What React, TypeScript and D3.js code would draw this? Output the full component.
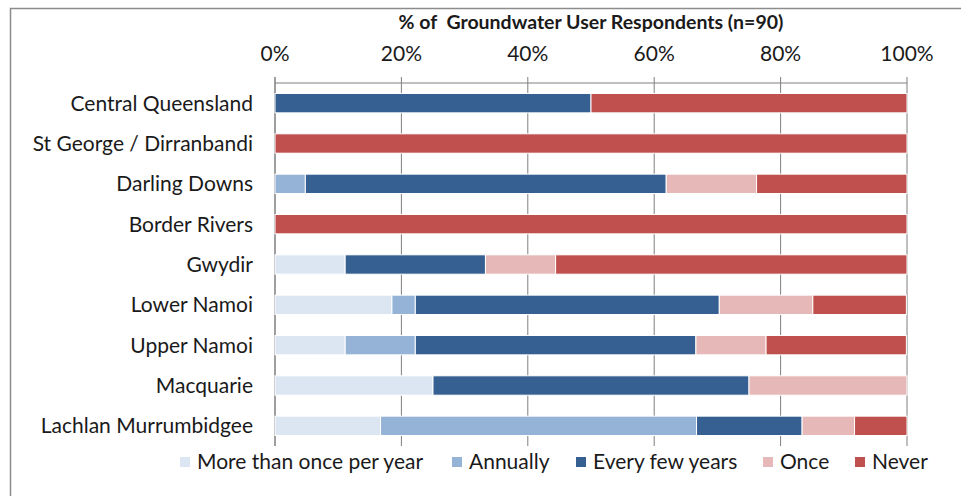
import { useEffect, useRef } from "react";
import * as d3 from "d3";

// Regions, top to bottom
const regions = [
  "Central Queensland",
  "St George / Dirranbandi",
  "Darling Downs",
  "Border Rivers",
  "Gwydir",
  "Lower Namoi",
  "Upper Namoi",
  "Macquarie",
  "Lachlan Murrumbidgee",
];

const seriesNames = ["More than once per year", "Annually", "Every few years", "Once", "Never"];
const seriesColors = ["#dce6f2", "#95b3d7", "#366092", "#e6b9b8", "#c0504d"];

// percent of respondents, per region (same order as regions)
const moreThanOnce = [0, 0, 0, 0, 11.1, 18.5, 11.1, 25, 16.7];
const annually = [0, 0, 4.8, 0, 0, 3.7, 11.1, 0, 50];
const everyFewYears = [50, 0, 57.1, 0, 22.2, 48.1, 44.4, 50, 16.7];
const once = [0, 0, 14.3, 0, 11.1, 14.8, 11.1, 25, 8.3];
const never = [50, 100, 23.8, 100, 55.6, 14.8, 22.2, 0, 8.3];

const ticks = [0, 20, 40, 60, 80, 100];
const titleText = "% of  Groundwater User Respondents (n=90)";

const font = "Lato, 'Open Sans', sans-serif";
const fs = 21;

export default function App() {
  const svgRef = useRef<SVGSVGElement>(null);

  useEffect(() => {
    const width = 961;
    const height = 496;
    const margin = { top: 83, left: 275, right: 54, bottom: 50 };
    const svg = d3.select(svgRef.current);
    svg.selectAll("*").remove();

    const rows = regions.map((r, i) => ({
      region: r,
      [seriesNames[0]]: moreThanOnce[i],
      [seriesNames[1]]: annually[i],
      [seriesNames[2]]: everyFewYears[i],
      [seriesNames[3]]: once[i],
      [seriesNames[4]]: never[i],
    }));
    const stacked = d3.stack<any>().keys(seriesNames)(rows);

    const x = d3.scaleLinear().domain([0, 100]).range([margin.left, 907]);
    const y = d3.scaleBand().domain(regions).range([margin.top, 446]).paddingInner(0.52).paddingOuter(0.26);
    const color = d3.scaleOrdinal<string, string>().domain(seriesNames).range(seriesColors);

    // outer frame
    svg.append("rect")
      .attr("x", 10.5).attr("y", 8.5)
      .attr("width", 980).attr("height", 520)
      .attr("fill", "#fff")
      .attr("stroke", "#8c8c8c")
      .attr("stroke-width", 1.5);

    // title
    svg.append("text")
      .attr("x", (x(0) + x(100)) / 2)
      .attr("y", 29)
      .attr("text-anchor", "middle")
      .attr("font-family", font)
      .attr("font-weight", "bold")
      .attr("font-size", 19.5)
      .attr("fill", "#1a1a1a")
      .attr("xml:space", "preserve")
      .text(titleText);

    // gridlines
    svg.append("g")
      .selectAll("line")
      .data(ticks)
      .join("line")
      .attr("x1", d => x(d)).attr("x2", d => x(d))
      .attr("y1", margin.top - 6).attr("y2", 446)
      .attr("stroke", "#7f7f7f")
      .attr("stroke-width", d => (d === 0 ? 1.5 : 1));

    // top axis line
    svg.append("line")
      .attr("x1", x(0)).attr("x2", x(100))
      .attr("y1", margin.top).attr("y2", margin.top)
      .attr("stroke", "#7f7f7f");

    // tick labels
    svg.append("g")
      .selectAll("text")
      .data(ticks)
      .join("text")
      .attr("x", d => x(d))
      .attr("y", 61)
      .attr("text-anchor", "middle")
      .attr("font-family", font)
      .attr("font-size", fs)
      .attr("fill", "#1a1a1a")
      .text(d => `${d}%`);

    // bars
    const layers = svg.append("g")
      .selectAll("g")
      .data(stacked)
      .join("g")
      .attr("fill", d => color(d.key));

    layers.selectAll("rect")
      .data(d => d)
      .join("rect")
      .attr("x", d => x(d[0]))
      .attr("y", d => y(d.data.region)!)
      .attr("width", d => Math.max(0, x(d[1]) - x(d[0])))
      .attr("height", y.bandwidth())
      .attr("stroke", "#fff")
      .attr("stroke-width", d => (d[1] - d[0] > 0 ? 1 : 0));

    // category labels
    svg.append("g")
      .selectAll("text")
      .data(regions)
      .join("text")
      .attr("x", x(0) - 22)
      .attr("y", d => y(d)! + y.bandwidth() / 2)
      .attr("dy", "0.35em")
      .attr("text-anchor", "end")
      .attr("font-family", font)
      .attr("font-size", fs)
      .attr("fill", "#1a1a1a")
      .text(d => d);

    // legend
    const legendX = [180, 452, 576, 763, 855];
    const legend = svg.append("g")
      .selectAll("g")
      .data(seriesNames)
      .join("g")
      .attr("transform", (d, i) => `translate(${legendX[i]},462)`);
    legend.append("rect")
      .attr("x", 0).attr("y", -5)
      .attr("width", 10).attr("height", 10)
      .attr("fill", d => color(d));
    legend.append("text")
      .attr("x", 17)
      .attr("dy", "0.35em")
      .attr("font-family", font)
      .attr("font-size", fs)
      .attr("fill", "#1a1a1a")
      .text(d => d);

    svg.attr("viewBox", `0 0 ${width} ${height}`);
  }, []);

  return (
    <svg
      ref={svgRef}
      width={961}
      height={496}
      style={{ position: "absolute", left: 0, top: 0, display: "block" }}
    />
  );
}
